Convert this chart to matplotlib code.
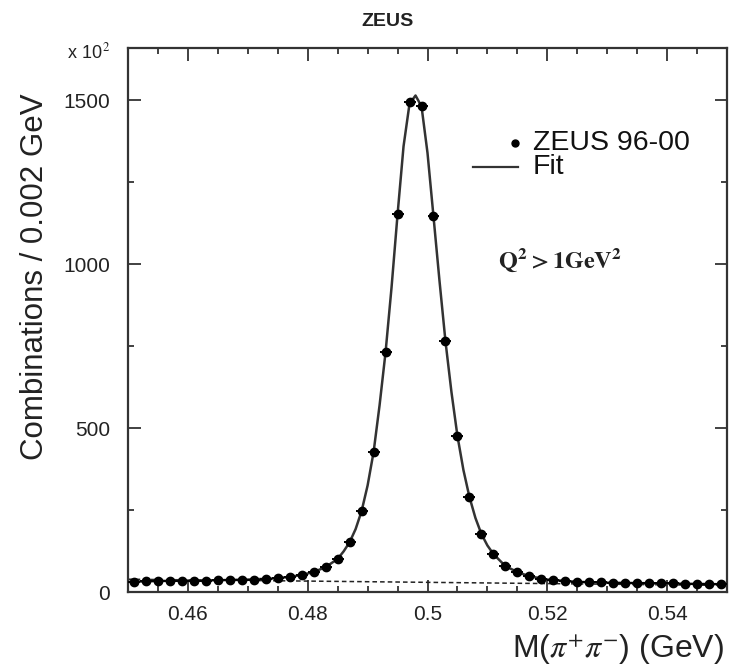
import matplotlib
matplotlib.use("Agg")
import matplotlib.pyplot as plt
from matplotlib.ticker import MultipleLocator
import numpy as np

plt.rcParams['font.family'] = ['Liberation Sans', 'DejaVu Sans']
plt.rcParams['mathtext.fontset'] = 'stix'

# M(pi+ pi-) bins of 0.002 GeV, counts in units of 10^2
mass = np.arange(0.451, 0.550, 0.002)
counts = [31, 33, 34, 34, 34, 35, 35, 36, 36, 37, 38, 40, 42,
          46, 52, 61, 76, 101, 152, 247, 427, 732, 1152, 1494,
          1482, 1146, 765, 476, 290, 177, 116, 79, 61, 48, 41,
          36, 33, 31, 30, 29, 28, 28, 27, 27, 26, 26, 25, 25, 24, 24]

# fitted signal + background
fit_x = [0.450, 0.455, 0.460, 0.465, 0.470, 0.474, 0.477, 0.479, 0.481,
         0.483, 0.485, 0.486, 0.487, 0.488, 0.489, 0.490, 0.491, 0.492,
         0.493, 0.494, 0.495, 0.496, 0.497, 0.498, 0.499, 0.500, 0.501,
         0.502, 0.503, 0.504, 0.505, 0.506, 0.507, 0.508, 0.509, 0.510,
         0.511, 0.513, 0.515, 0.517, 0.520, 0.525, 0.530, 0.540, 0.550]
fit_y = [31, 33.5, 35, 36, 38, 41, 46, 52, 61,
         76, 101, 124, 152, 192, 247, 325, 427, 570,
         732, 930, 1152, 1360, 1490, 1515, 1482, 1340, 1146,
         950, 765, 610, 476, 372, 290, 226, 177, 142,
         116, 79, 61, 48, 38, 31, 28.5, 26, 23.5]

# background part of the fit
bkg_x = [0.450, 0.550]
bkg_y = [39, 20]

fig = plt.figure(figsize=(7.29, 6.71), dpi=100)
ax = fig.add_axes([128 / 729, 79 / 671, 599 / 729, 544 / 671])

ax.plot(bkg_x, bkg_y, color='#222222', lw=1.1, ls=(0, (3, 2)))
ax.plot(fit_x, fit_y, color='#333333', lw=1.8)
ax.errorbar(mass, counts, xerr=0.001, fmt='o', color='black',
            ms=6, elinewidth=1.4, capsize=0, zorder=3)

ax.set_xlim(0.45, 0.55)
ax.set_ylim(0, 1660)

ax.xaxis.set_major_locator(MultipleLocator(0.02))
ax.xaxis.set_minor_locator(MultipleLocator(0.005))
ax.yaxis.set_major_locator(MultipleLocator(500))
ax.yaxis.set_minor_locator(MultipleLocator(250))
ax.set_xticks([0.46, 0.48, 0.50, 0.52, 0.54])
ax.set_xticklabels(['0.46', '0.48', '0.5', '0.52', '0.54'])
ax.tick_params(which='both', direction='in', top=True, right=True,
               width=1.3, color='#333333', labelcolor='#222222')
ax.tick_params(which='major', length=9, labelsize=15)
ax.tick_params(axis='x', which='major', pad=9)
ax.tick_params(axis='y', which='major', pad=13)
ax.tick_params(which='minor', length=4.5)
for sp in ax.spines.values():
    sp.set_linewidth(1.6)
    sp.set_color('#333333')

ax.set_ylabel('Combinations / 0.002 GeV', fontsize=22.5, color='#222222')
ax.yaxis.set_label_coords(-0.13, 0.58)
ax.set_xlabel(r'M($\pi^{+}\pi^{-}$) (GeV)', fontsize=23, color='#222222',
              ha='right')
ax.xaxis.set_label_coords(0.995, -0.074)

fig.text(387 / 729, 1 - 22 / 671, 'ZEUS', ha='center', va='center',
         fontsize=14, fontweight='bold', color='#222222')
fig.text(67 / 729, 1 - 52 / 671, r'x 10$^{\,2}$', ha='left', va='center',
         fontsize=13, color='#222222')

# legend
tr = ax.transAxes
ax.plot([(515 - 128) / 599], [(592 - 143) / 544], 'o', color='black',
        ms=5, transform=tr, clip_on=False)
ax.plot([(473 - 128) / 599, (518 - 128) / 599], [(592 - 167) / 544] * 2,
        color='#333333', lw=1.6, transform=tr)
ax.text((533 - 128) / 599, (592 - 143) / 544, 'ZEUS 96-00', transform=tr,
        fontsize=20.5, va='center', ha='left', color='#111111')
ax.text((533 - 128) / 599, (592 - 167) / 544, 'Fit', transform=tr,
        fontsize=20.5, va='center', ha='left', color='#111111')

ax.text((498 - 128) / 599, (592 - 260) / 544, r'$\mathbf{Q^2 > 1GeV^2}$',
        transform=tr, fontsize=17.5, va='center', ha='left', color='#222222')

fig.savefig('out.png', dpi=100)
